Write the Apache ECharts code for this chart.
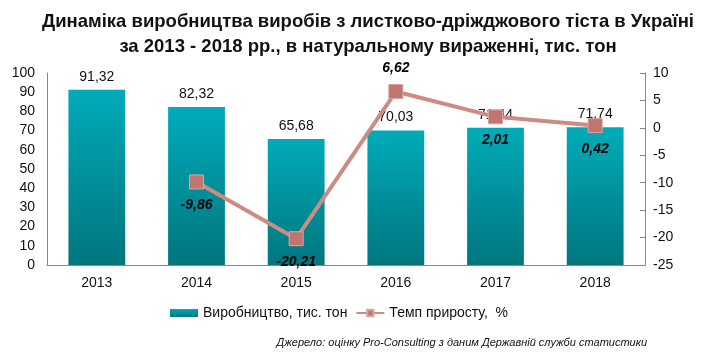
<!DOCTYPE html>
<html><head><meta charset="utf-8">
<script src="https://cdn.jsdelivr.net/npm/echarts@6/dist/echarts.min.js"></script>
<style>html,body{margin:0;padding:0;background:#fff}#c{width:715px;height:357px}</style>
</head><body><div id="c"></div>
<script>
const categories = ['2013','2014','2015','2016','2017','2018'];
const production = [91.32, 82.32, 65.68, 70.03, 71.44, 71.74];
const growth = [null, -9.86, -20.21, 6.62, 2.01, 0.42];
const growthLabelPos = ['bottom','bottom','bottom','top','bottom','bottom'];
const fmt = v => String(v.toFixed(2)).replace('.', ',');
const chart = echarts.init(document.getElementById('c'));
const font = 'Arial, "Liberation Sans", sans-serif';
chart.setOption({
  animation: false,
  textStyle: {fontFamily: font},
  title: {
    text: 'Динаміка виробництва виробів з листково-дріжджового тіста в Україні\nза 2013 - 2018 рр., в натуральному вираженні, тис. тон',
    left: 363, top: 4, textAlign: 'center',
    textStyle: {fontSize: 18.5, fontWeight: 'bold', color: '#111', lineHeight: 25, fontFamily: font}
  },
  grid: {left: 47, right: 70, top: 73, bottom: 92},
  legend: {
    bottom: 32, left: 165, itemGap: 8, itemWidth: 28, itemHeight: 8,
    textStyle: {fontSize: 14, color: '#111', fontFamily: font},
    data: [
      {name: 'Виробництво, тис. тон', icon: 'rect'},
      {name: 'Темп приросту,  %'}
    ]
  },
  graphic: [{
    type: 'text', right: 68, bottom: 9,
    style: {text: 'Джерело: оцінку Pro-Consulting з даним Державній служби статистики', font: 'italic 11px ' + font, fill: '#111'}
  }],
  xAxis: {
    type: 'category', data: categories,
    axisLine: {lineStyle: {color: '#888'}}, axisTick: {show: false},
    axisLabel: {fontSize: 14, color: '#111', margin: 11}
  },
  yAxis: [
    {type: 'value', min: 0, max: 100, interval: 10, splitLine: {show: false},
     axisLine: {show: true, lineStyle: {color: '#888'}}, axisTick: {show: false},
     axisLabel: {fontSize: 14, color: '#111', margin: 12}},
    {type: 'value', min: -25, max: 10, interval: 5, splitLine: {show: false},
     axisLine: {show: true, lineStyle: {color: '#888'}},
     axisTick: {show: true, inside: true, length: 5, lineStyle: {color: '#888'}},
     axisLabel: {fontSize: 14, color: '#111', margin: 8}}
  ],
  series: [
    {name: 'Виробництво, тис. тон', type: 'bar', data: production, barWidth: '57%',
     itemStyle: {color: new echarts.graphic.LinearGradient(0,0,0,1,[{offset:0,color:'#00abb9'},{offset:1,color:'#00767e'}])},
     label: {show: true, position: 'top', distance: 6, fontSize: 14, color: '#111', formatter: p => fmt(p.value)}},
    {name: 'Темп приросту,  %', type: 'line', yAxisIndex: 1,
     data: growth.map((v,i) => v === null ? null : {value: v, label: {position: growthLabelPos[i]}}),
     symbol: 'rect', symbolSize: 14,
     lineStyle: {color: '#cc8c84', width: 4},
     itemStyle: {color: '#c0766e', borderColor: '#d9a49d', borderWidth: 1},
     label: {show: true, distance: 9, fontSize: 14, fontWeight: 'bold', fontStyle: 'italic', color: '#000', formatter: p => fmt(p.value)}}
  ]
});
</script></body></html>
